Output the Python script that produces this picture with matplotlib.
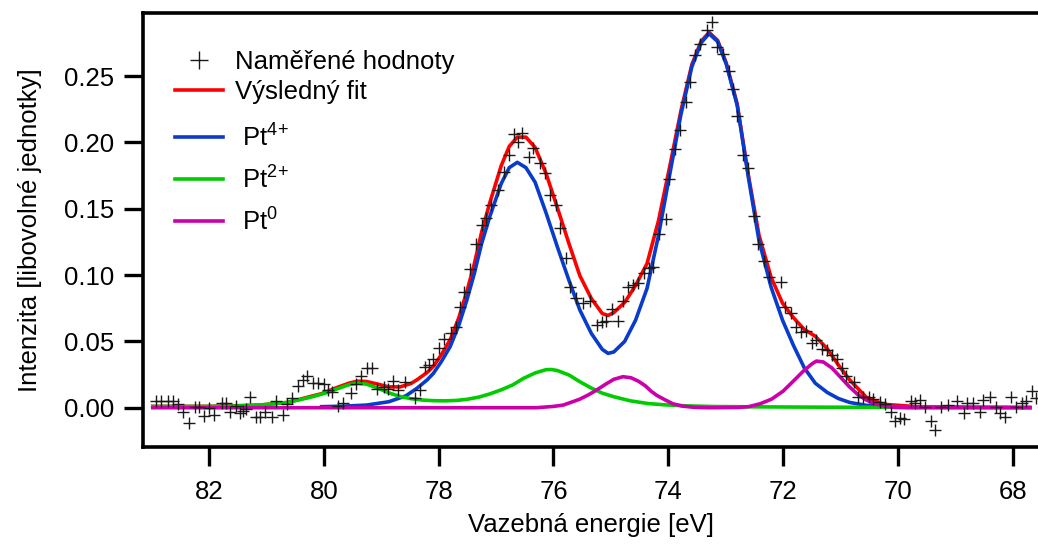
import matplotlib
matplotlib.use("Agg")
import matplotlib.pyplot as plt
from matplotlib.ticker import FormatStrFormatter

plt.rcParams['font.family'] = ['Liberation Sans', 'DejaVu Sans']
plt.rcParams['mathtext.fontset'] = 'custom'
plt.rcParams['mathtext.rm'] = 'Liberation Sans'

# measured points (binding energy [eV], intensity)
data_e = [82.92, 82.83, 82.71, 82.63, 82.54, 82.46, 82.35, 82.24, 82.18, 82.09,
          82.00, 81.91, 81.78, 81.71, 81.64, 81.53, 81.46, 81.40, 81.35, 81.28,
          81.18, 81.11, 81.03, 80.91, 80.83, 80.72, 80.64, 80.55, 80.45, 80.37,
          80.29, 80.19, 80.10, 80.00, 79.92, 79.85, 79.76, 79.67, 79.53, 79.44,
          79.36, 79.25, 79.16, 79.07, 78.96, 78.88, 78.80, 78.70, 78.58, 78.42,
          78.33, 78.24, 78.17, 78.10, 77.99, 77.90, 77.79, 77.69, 77.62, 77.55,
          77.46, 77.35, 77.25, 77.17, 77.08, 76.96, 76.87, 76.78, 76.69, 76.62,
          76.54, 76.42, 76.35, 76.24, 76.15, 76.06, 75.95, 75.88, 75.79, 75.72,
          75.60, 75.48, 75.36, 75.25, 75.16, 75.08, 74.98, 74.88, 74.79, 74.70,
          74.61, 74.52, 74.43, 74.34, 74.26, 74.17, 74.04, 73.98, 73.88, 73.80,
          73.69, 73.62, 73.54, 73.44, 73.33, 73.24, 73.15, 73.04, 72.95, 72.87,
          72.80, 72.69, 72.62, 72.50, 72.43, 72.33, 72.24, 72.04, 71.97, 71.87,
          71.77, 71.69, 71.60, 71.50, 71.42, 71.33, 71.24, 71.15, 71.06, 70.98,
          70.90, 70.76, 70.70, 70.60, 70.51, 70.43, 70.32, 70.22, 70.12, 70.05,
          69.97, 69.89, 69.78, 69.70, 69.62, 69.53, 69.43, 69.36, 69.25, 69.13,
          68.97, 68.85, 68.79, 68.69, 68.57, 68.51, 68.40, 68.30, 68.22, 68.13,
          68.03, 67.94, 67.83, 67.77, 67.67, 67.59]
data_i = [0.0053, 0.0053, 0.0053, 0.0050, 0.0026, -0.0030, -0.0118, 0.0008, 0.0005, -0.0063,
          0.0000, -0.0055, 0.0038, 0.0038, -0.0030, 0.0010, -0.0042, -0.0025, -0.0010, 0.0078,
          -0.0073, -0.0068, -0.0030, -0.0073, 0.0050, -0.0058, 0.0027, 0.0076, 0.0164, 0.0209,
          0.0243, 0.0189, 0.0189, 0.0182, 0.0133, 0.0120, 0.0013, 0.0035, 0.0113, 0.0179,
          0.0243, 0.0300, 0.0300, 0.0139, 0.0156, 0.0139, 0.0205, 0.0132, 0.0192, 0.0072,
          0.0130, 0.0309, 0.0322, 0.0370, 0.0450, 0.0518, 0.0560, 0.0610, 0.0758, 0.0870,
          0.1047, 0.1237, 0.1380, 0.1430, 0.1528, 0.1641, 0.1779, 0.1905, 0.2063, 0.2005,
          0.2073, 0.1892, 0.1955, 0.1842, 0.1767, 0.1603, 0.1528, 0.1352, 0.1126, 0.0912,
          0.0825, 0.0792, 0.0807, 0.0623, 0.0648, 0.0656, 0.0742, 0.0656, 0.0807, 0.0908,
          0.0925, 0.0938, 0.1013, 0.1051, 0.1060, 0.1312, 0.1425, 0.1726, 0.1952, 0.2091,
          0.2304, 0.2455, 0.2656, 0.2744, 0.2845, 0.2907, 0.2719, 0.2669, 0.2536, 0.2405,
          0.2199, 0.1903, 0.1807, 0.1445, 0.1236, 0.1104, 0.0988, 0.0950, 0.0761, 0.0716,
          0.0611, 0.0573, 0.0580, 0.0485, 0.0510, 0.0440, 0.0435, 0.0400, 0.0367, 0.0300,
          0.0239, 0.0196, 0.0083, 0.0078, 0.0078, 0.0063, 0.0045, 0.0028, -0.0030, -0.0100,
          -0.0080, -0.0087, 0.0053, 0.0033, 0.0058, 0.0003, -0.0098, -0.0168, 0.0008, 0.0020,
          0.0050, -0.0038, 0.0033, 0.0033, -0.0030, 0.0058, 0.0083, 0.0003, -0.0038, -0.0073,
          0.0078, 0.0003, 0.0033, 0.0050, 0.0128, 0.0071]

# Pt4+ component
pt4_e = [80.04, 79.65, 79.26, 78.87, 78.57, 78.38, 78.20, 78.09, 77.95, 77.80,
         77.65, 77.51, 77.38, 77.25, 77.11, 76.91, 76.77, 76.63, 76.48, 76.32,
         76.13, 75.93, 75.73, 75.54, 75.34, 75.15, 75.05, 74.95, 74.76, 74.57,
         74.37, 74.17, 73.97, 73.78, 73.59, 73.43, 73.29, 73.14, 72.99, 72.80,
         72.61, 72.42, 72.21, 72.01, 71.82, 71.63, 71.44, 71.23, 71.04, 70.84,
         70.55, 70.25, 69.67]
pt4_i = [0.0008, 0.0012, 0.0020, 0.0045, 0.0090, 0.0146, 0.0210, 0.0260, 0.0350, 0.0460,
         0.0620, 0.0810, 0.1010, 0.1240, 0.1440, 0.1690, 0.1810, 0.1850, 0.1810, 0.1700,
         0.1470, 0.1210, 0.0960, 0.0736, 0.0560, 0.0440, 0.0410, 0.0420, 0.0500, 0.0660,
         0.0900, 0.1300, 0.1770, 0.2210, 0.2570, 0.2750, 0.2820, 0.2760, 0.2590, 0.2280,
         0.1750, 0.1260, 0.0910, 0.0660, 0.0470, 0.0300, 0.0185, 0.0115, 0.0070, 0.0040,
         0.0018, 0.0010, 0.0006]

# Pt2+ component
pt2_e = [82.98, 82.00, 81.51, 81.12, 80.63, 80.24, 79.94, 79.75, 79.55, 79.41,
         79.26, 79.06, 78.87, 78.67, 78.48, 78.28, 78.08, 77.89, 77.69, 77.50,
         77.30, 77.11, 76.91, 76.71, 76.52, 76.32, 76.13, 76.03, 75.93, 75.73,
         75.54, 75.34, 75.15, 74.95, 74.66, 74.36, 74.07, 73.68, 73.19, 72.21,
         71.23, 70.25, 67.70]
pt2_i = [0.0010, 0.0010, 0.0013, 0.0020, 0.0040, 0.0078, 0.0115, 0.0145, 0.0175, 0.0185,
         0.0178, 0.0148, 0.0112, 0.0085, 0.0068, 0.0058, 0.0053, 0.0052, 0.0055, 0.0064,
         0.0080, 0.0104, 0.0135, 0.0172, 0.0222, 0.0262, 0.0287, 0.0288, 0.0280, 0.0247,
         0.0196, 0.0148, 0.0110, 0.0083, 0.0052, 0.0032, 0.0022, 0.0014, 0.0009, 0.0006,
         0.0004, 0.0003, 0.0002]

# Pt0 component
pt0_e = [82.98, 76.30, 76.00, 75.83, 75.55, 75.40, 75.25, 75.10, 74.95, 74.79,
         74.65, 74.52, 74.40, 74.30, 74.20, 74.05, 73.92, 73.75, 73.55, 73.30,
         72.80, 72.60, 72.40, 72.20, 72.00, 71.80, 71.65, 71.50, 71.42, 71.30,
         71.15, 71.00, 70.85, 70.70, 70.55, 70.40, 70.25, 70.05, 69.80, 67.70]
pt0_i = [0.0, 0.0, 0.0010, 0.0020, 0.0063, 0.0095, 0.0133, 0.0175, 0.0214, 0.0234,
         0.0226, 0.0200, 0.0165, 0.0125, 0.0093, 0.0058, 0.0030, 0.0012, 0.0003, 0.0,
         0.0002, 0.0008, 0.0030, 0.0065, 0.0125, 0.0210, 0.0275, 0.0330, 0.0352, 0.0345,
         0.0300, 0.0230, 0.0160, 0.0100, 0.0058, 0.0030, 0.0013, 0.0003, 0.0, 0.0]

# resulting fit (sum of components)
fit_e = [82.98, 82.00, 81.12, 80.63, 80.24, 80.04, 79.75, 79.55, 79.41, 79.26,
         79.06, 78.87, 78.67, 78.48, 78.38, 78.20, 78.09, 77.95, 77.80, 77.65,
         77.51, 77.38, 77.25, 77.11, 76.91, 76.77, 76.63, 76.48, 76.32, 76.13,
         75.93, 75.73, 75.54, 75.34, 75.15, 75.05, 74.95, 74.76, 74.57, 74.37,
         74.17, 73.97, 73.78, 73.59, 73.43, 73.29, 73.14, 72.99, 72.80, 72.61,
         72.42, 72.21, 72.01, 71.82, 71.63, 71.44, 71.23, 71.04, 70.84, 70.55,
         70.25, 69.67, 67.70]
fit_i = [0.0010, 0.0010, 0.0020, 0.0040, 0.0084, 0.0106, 0.0156, 0.0187, 0.0200, 0.0198,
         0.0178, 0.0157, 0.0157, 0.0183, 0.0210, 0.0266, 0.0313, 0.0402, 0.0512, 0.0677,
         0.0874, 0.1083, 0.1326, 0.1544, 0.1825, 0.1970, 0.2040, 0.2040, 0.1962, 0.1767,
         0.1505, 0.1237, 0.0995, 0.0823, 0.0710, 0.0696, 0.0717, 0.0794, 0.0922, 0.1087,
         0.1411, 0.1829, 0.2238, 0.2586, 0.2761, 0.2830, 0.2769, 0.2598, 0.2290, 0.1765,
         0.1301, 0.0984, 0.0788, 0.0679, 0.0590, 0.0539, 0.0444, 0.0324, 0.0209, 0.0079,
         0.0026, 0.0008, 0.0002]

xticks = [82, 80, 78, 76, 74, 72, 70, 68]
yticks = [0.0, 0.05, 0.10, 0.15, 0.20, 0.25]

fs = 18.5
lw = 2.6

fig = plt.figure(figsize=(10.38, 5.44), dpi=100)
ax = fig.add_axes([143 / 1038, 1 - 447 / 544, 1 - 143 / 1038, (447 - 12.7) / 544])

h_fit, = ax.plot(fit_e, fit_i, color='#ff0000', lw=lw, zorder=2)
h_pt4, = ax.plot(pt4_e, pt4_i, color='#0a3ccc', lw=lw, zorder=3)
h_pt2, = ax.plot(pt2_e, pt2_i, color='#00cc00', lw=lw, zorder=4)
h_pt0, = ax.plot(pt0_e, pt0_i, color='#cc00aa', lw=lw, zorder=5)
h_dat, = ax.plot(data_e, data_i, ls='none', marker='+', ms=8.5, mew=1.0,
                 color='#1a1a1a', zorder=6)

ax.set_xlim(83.15, 67.56)
ax.set_ylim(-0.0296, 0.2978)
ax.set_xticks(xticks)
ax.set_yticks(yticks)
ax.yaxis.set_major_formatter(FormatStrFormatter('%.2f'))

for side in ['left', 'top', 'bottom']:
    ax.spines[side].set_linewidth(2.6)
ax.spines['right'].set_visible(False)
ax.tick_params(direction='out', length=13.5, width=2.4, labelsize=fs)
ax.tick_params(axis='x', pad=10)
ax.tick_params(axis='y', pad=7)

ax.set_xlabel('Vazebná energie [eV]', fontsize=fs)
ax.set_ylabel('Intenzita [libovolné jednotky]', fontsize=fs)
ax.xaxis.set_label_coords(0.5, -0.152)
ax.yaxis.set_label_coords(-0.113, 0.5)

leg1 = ax.legend([h_dat, h_fit], ['Naměřené hodnoty', 'Výsledný fit'],
                 loc='upper left', bbox_to_anchor=(175 / 1038, 1 - 50 / 544),
                 bbox_transform=fig.transFigure, frameon=False, fontsize=fs,
                 handlelength=1.85, handletextpad=0.5, labelspacing=0.25,
                 borderpad=0, borderaxespad=0, markerscale=1.6)
ax.add_artist(leg1)
ax.legend([h_pt4, h_pt2, h_pt0],
          [' Pt$^{4\\!+}$', ' Pt$^{2\\!+}$', ' Pt$^{0}$'],
          loc='upper left', bbox_to_anchor=(175 / 1038, 1 - 123 / 544),
          bbox_transform=fig.transFigure, frameon=False, fontsize=fs,
          handlelength=1.85, handletextpad=0.5, labelspacing=0.55,
          borderpad=0, borderaxespad=0)

plt.savefig('out.png', dpi=100)
plt.close()
